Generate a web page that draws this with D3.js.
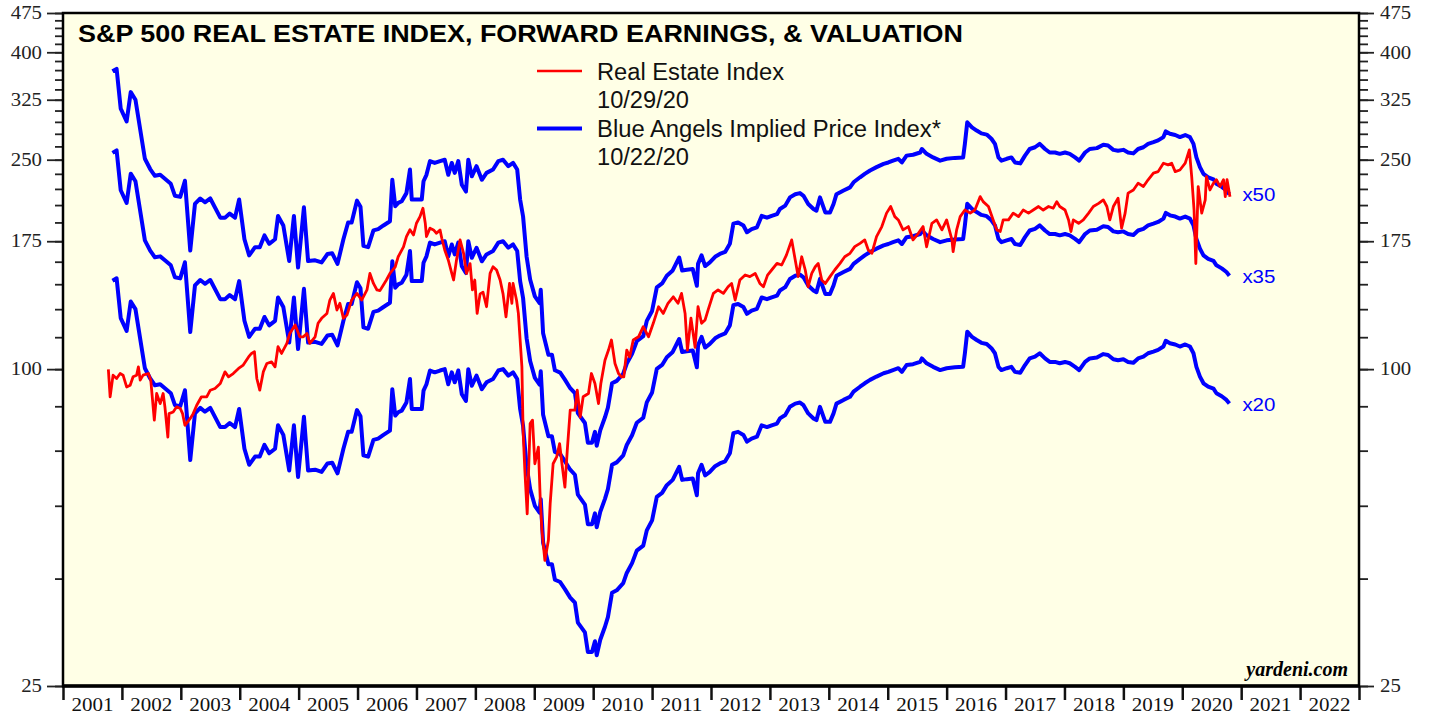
<!DOCTYPE html>
<html>
<head>
<meta charset="utf-8">
<script src="https://cdn.jsdelivr.net/npm/d3@7"></script>
<style>
  html, body { margin: 0; padding: 0; background: #fff; }
  svg { display: block; }
</style>
</head>
<body>
<svg id="chart" width="1429" height="717"></svg>
<script>
// forward earnings (the blue lines are these times a P/E multiple)
const fwdEarnings = [
  [2001.84,7.36],[2001.91,7.44],[2001.98,6.25],[2002.08,5.91],[2002.15,6.72],[2002.23,6.50],[2002.39,5.02],[2002.48,4.80],
  [2002.56,4.66],[2002.65,4.68],[2002.73,4.60],[2002.83,4.50],[2002.90,4.27],[2002.99,4.25],[2003.07,4.56],[2003.16,3.36],
  [2003.24,4.12],[2003.33,4.22],[2003.41,4.15],[2003.50,4.22],[2003.67,3.88],[2003.75,3.88],[2003.83,3.95],[2003.92,3.88],
  [2003.99,4.20],[2004.08,3.53],[2004.16,3.29],[2004.26,3.41],[2004.34,3.41],[2004.42,3.59],[2004.50,3.46],[2004.60,3.53],
  [2004.65,3.91],[2004.74,3.75],[2004.84,3.21],[2004.92,3.91],[2004.99,3.12],[2005.09,4.06],[2005.16,3.21],[2005.28,3.22],
  [2005.39,3.19],[2005.49,3.31],[2005.57,3.32],[2005.66,3.17],[2005.76,3.53],[2005.84,3.80],[2005.90,3.80],[2005.99,4.18],
  [2006.05,4.07],[2006.10,3.43],[2006.18,3.41],[2006.27,3.67],[2006.35,3.69],[2006.44,3.75],[2006.55,3.82],[2006.59,4.58],
  [2006.64,4.08],[2006.69,4.14],[2006.75,4.17],[2006.83,4.32],[2006.89,4.79],[2006.92,4.20],[2007.00,4.20],[2007.09,4.20],
  [2007.12,4.55],[2007.17,4.68],[2007.23,4.97],[2007.31,4.93],[2007.40,4.97],[2007.48,5.00],[2007.54,4.68],[2007.60,4.93],
  [2007.65,4.72],[2007.71,4.97],[2007.77,4.48],[2007.84,4.35],[2007.88,5.00],[2007.94,4.65],[2008.02,4.86],[2008.11,4.58],
  [2008.19,4.72],[2008.30,4.79],[2008.39,4.97],[2008.47,5.00],[2008.56,4.86],[2008.64,4.93],[2008.71,4.79],[2008.76,4.20],
  [2008.81,3.90],[2008.87,3.27],[2008.93,2.96],[2009.01,2.75],[2009.09,2.67],[2009.11,2.83],[2009.15,2.34],[2009.24,2.13],
  [2009.30,2.13],[2009.35,1.99],[2009.44,1.97],[2009.52,1.91],[2009.61,1.84],[2009.69,1.80],[2009.74,1.65],[2009.86,1.58],
  [2009.91,1.45],[2009.98,1.45],[2010.03,1.52],[2010.06,1.43],[2010.12,1.53],[2010.20,1.62],[2010.25,1.69],[2010.32,1.88],
  [2010.40,1.90],[2010.51,1.96],[2010.57,2.05],[2010.66,2.14],[2010.74,2.26],[2010.85,2.31],[2010.91,2.47],[2011.00,2.58],
  [2011.08,2.86],[2011.17,2.91],[2011.25,3.01],[2011.35,3.08],[2011.46,3.26],[2011.51,3.08],[2011.59,3.09],[2011.69,3.10],
  [2011.76,2.88],[2011.78,3.17],[2011.84,3.29],[2011.90,3.14],[2011.98,3.19],[2012.07,3.27],[2012.15,3.31],[2012.24,3.34],
  [2012.32,3.46],[2012.38,3.78],[2012.46,3.80],[2012.55,3.75],[2012.61,3.64],[2012.69,3.69],[2012.78,3.72],[2012.86,3.91],
  [2012.95,3.88],[2013.03,3.91],[2013.12,3.94],[2013.17,4.03],[2013.26,4.09],[2013.34,4.24],[2013.43,4.30],[2013.51,4.32],
  [2013.57,4.27],[2013.65,4.12],[2013.74,4.03],[2013.79,4.00],[2013.85,4.24],[2013.94,3.97],[2014.02,3.97],[2014.08,4.12],
  [2014.13,4.30],[2014.25,4.37],[2014.36,4.43],[2014.42,4.53],[2014.53,4.63],[2014.61,4.70],[2014.70,4.77],[2014.81,4.84],
  [2014.93,4.91],[2015.01,4.94],[2015.09,4.98],[2015.18,5.02],[2015.24,4.94],[2015.32,5.09],[2015.43,5.11],[2015.55,5.16],
  [2015.58,5.24],[2015.66,5.13],[2015.77,5.05],[2015.89,4.98],[2016.00,5.02],[2016.14,5.04],[2016.28,5.05],[2016.31,5.36],
  [2016.35,5.89],[2016.43,5.76],[2016.51,5.68],[2016.59,5.61],[2016.68,5.58],[2016.76,5.48],[2016.82,5.36],[2016.88,5.05],
  [2016.93,4.98],[2017.02,5.02],[2017.10,5.05],[2017.16,4.94],[2017.25,4.92],[2017.33,5.09],[2017.41,5.24],[2017.50,5.28],
  [2017.58,5.36],[2017.67,5.24],[2017.75,5.16],[2017.84,5.16],[2017.92,5.13],[2018.01,5.16],[2018.09,5.13],[2018.18,5.05],
  [2018.25,4.98],[2018.35,5.16],[2018.43,5.24],[2018.55,5.26],[2018.66,5.34],[2018.74,5.32],[2018.83,5.22],[2018.91,5.20],
  [2019.00,5.22],[2019.08,5.16],[2019.17,5.14],[2019.25,5.24],[2019.34,5.28],[2019.42,5.36],[2019.51,5.40],[2019.59,5.44],
  [2019.68,5.52],[2019.72,5.66],[2019.79,5.60],[2019.88,5.57],[2019.96,5.52],[2020.05,5.57],[2020.13,5.52],[2020.19,5.36],
  [2020.24,5.05],[2020.30,4.84],[2020.36,4.70],[2020.44,4.63],[2020.53,4.59],[2020.58,4.50],[2020.67,4.44],[2020.75,4.37],
  [2020.80,4.30]
];

const realEstateIndex = [
  [2001.77,99.9],[2001.80,88.6],[2001.85,97.4],[2001.91,96.0],[2001.97,98.1],[2002.02,97.4],[2002.08,92.5],[2002.14,93.2],
  [2002.19,96.7],[2002.25,97.4],[2002.28,101.0],[2002.31,95.3],[2002.36,97.4],[2002.45,98.1],[2002.49,95.3],[2002.55,80.0],
  [2002.59,89.9],[2002.65,86.0],[2002.70,89.9],[2002.73,84.8],[2002.78,74.3],[2002.80,82.3],[2002.87,82.9],[2002.93,84.8],
  [2002.99,84.2],[2003.03,82.3],[2003.07,78.2],[2003.16,80.6],[2003.21,82.3],[2003.27,85.4],[2003.35,88.6],[2003.44,88.6],
  [2003.50,91.2],[2003.58,91.9],[2003.67,93.9],[2003.75,98.8],[2003.81,96.7],[2003.89,98.1],[2003.98,100.3],[2004.06,101.8],
  [2004.15,105.5],[2004.20,107.1],[2004.25,107.9],[2004.29,96.0],[2004.34,91.2],[2004.40,98.8],[2004.46,102.5],[2004.54,103.2],
  [2004.60,101.0],[2004.65,110.3],[2004.71,107.1],[2004.80,111.9],[2004.85,116.9],[2004.94,121.3],[2005.02,115.2],[2005.08,115.2],
  [2005.14,116.9],[2005.19,111.9],[2005.28,115.2],[2005.33,122.2],[2005.39,124.9],[2005.48,127.6],[2005.53,135.3],[2005.59,139.3],
  [2005.65,129.5],[2005.70,133.4],[2005.76,124.9],[2005.82,126.7],[2005.90,135.3],[2005.99,139.3],[2006.07,135.3],[2006.16,141.4],
  [2006.21,152.0],[2006.27,145.5],[2006.33,141.4],[2006.38,141.0],[2006.42,143.4],[2006.49,147.7],[2006.55,152.0],[2006.64,156.5],
  [2006.69,163.5],[2006.78,170.8],[2006.83,178.6],[2006.89,184.0],[2006.95,179.9],[2007.00,189.3],[2007.06,194.9],[2007.11,202.2],
  [2007.15,189.3],[2007.17,178.6],[2007.23,185.3],[2007.29,183.9],[2007.34,181.2],[2007.40,183.9],[2007.43,177.3],[2007.48,168.4],
  [2007.54,161.2],[2007.60,152.0],[2007.63,147.7],[2007.68,161.2],[2007.74,176.0],[2007.80,166.0],[2007.85,152.0],[2007.91,158.7],
  [2007.95,141.4],[2007.99,147.7],[2008.03,127.6],[2008.08,139.0],[2008.13,140.0],[2008.19,131.4],[2008.25,152.0],[2008.30,156.5],
  [2008.36,154.3],[2008.42,147.7],[2008.47,139.0],[2008.52,125.7],[2008.58,145.5],[2008.62,133.4],[2008.64,145.5],[2008.70,135.0],
  [2008.73,127.6],[2008.79,101.0],[2008.81,76.5],[2008.84,64.2],[2008.88,53.1],[2008.93,78.8],[2008.97,80.0],[2009.01,66.1],
  [2009.07,71.1],[2009.10,57.1],[2009.13,49.4],[2009.18,43.3],[2009.24,47.3],[2009.27,55.5],[2009.32,66.1],[2009.38,68.1],
  [2009.43,72.2],[2009.47,66.1],[2009.52,59.7],[2009.56,70.1],[2009.61,83.6],[2009.69,83.6],[2009.73,91.2],[2009.78,81.1],
  [2009.83,88.6],[2009.92,89.9],[2009.97,98.1],[2010.03,93.9],[2010.09,86.0],[2010.13,93.9],[2010.20,104.0],[2010.26,108.7],
  [2010.31,113.6],[2010.37,102.5],[2010.43,98.1],[2010.48,96.7],[2010.52,96.7],[2010.57,108.7],[2010.62,105.5],[2010.68,113.6],
  [2010.77,115.2],[2010.85,120.4],[2010.94,115.2],[2011.02,122.2],[2011.11,131.4],[2011.19,127.6],[2011.27,133.4],[2011.36,137.2],
  [2011.44,133.4],[2011.50,139.3],[2011.56,127.6],[2011.60,108.7],[2011.66,125.0],[2011.73,110.0],[2011.78,131.4],[2011.84,122.2],
  [2011.90,124.0],[2011.95,129.5],[2012.04,139.3],[2012.12,141.4],[2012.21,139.3],[2012.29,143.4],[2012.35,145.5],[2012.41,135.3],
  [2012.49,147.7],[2012.58,151.0],[2012.66,149.9],[2012.75,152.0],[2012.83,145.5],[2012.89,143.4],[2012.96,150.9],[2013.03,154.3],
  [2013.12,158.8],[2013.20,157.7],[2013.28,164.7],[2013.37,176.0],[2013.43,161.2],[2013.48,149.9],[2013.54,163.5],[2013.60,154.3],
  [2013.65,143.4],[2013.71,152.0],[2013.77,156.5],[2013.82,158.8],[2013.88,147.7],[2013.94,145.5],[2014.02,149.9],[2014.10,154.3],
  [2014.19,158.8],[2014.27,163.5],[2014.36,166.0],[2014.44,170.9],[2014.53,173.4],[2014.61,176.0],[2014.67,168.4],[2014.73,166.0],
  [2014.81,178.6],[2014.90,186.6],[2014.98,197.9],[2015.05,203.7],[2015.12,194.9],[2015.18,192.1],[2015.26,183.9],[2015.35,186.6],
  [2015.43,176.0],[2015.52,181.2],[2015.60,186.6],[2015.66,170.8],[2015.75,189.3],[2015.83,192.1],[2015.92,183.9],[2016.00,192.1],
  [2016.09,176.0],[2016.11,167.2],[2016.17,183.9],[2016.23,194.9],[2016.31,200.6],[2016.40,197.9],[2016.48,200.6],[2016.57,212.7],
  [2016.62,208.1],[2016.71,203.7],[2016.79,192.1],[2016.85,183.9],[2016.91,182.6],[2016.96,192.1],[2017.05,192.1],[2017.13,197.9],
  [2017.22,194.9],[2017.30,200.6],[2017.39,197.9],[2017.47,200.6],[2017.56,203.7],[2017.64,200.6],[2017.73,203.7],[2017.81,202.2],
  [2017.87,208.1],[2017.92,203.7],[2018.01,200.6],[2018.07,192.1],[2018.11,182.6],[2018.15,192.1],[2018.24,189.3],[2018.32,192.1],
  [2018.41,197.9],[2018.49,203.7],[2018.58,206.5],[2018.66,209.7],[2018.72,203.7],[2018.77,192.1],[2018.83,203.7],[2018.91,211.2],
  [2018.97,185.3],[2019.03,197.9],[2019.08,216.0],[2019.17,219.0],[2019.25,225.6],[2019.34,222.3],[2019.42,229.0],[2019.51,235.7],
  [2019.59,237.3],[2019.68,246.2],[2019.76,244.4],[2019.82,246.2],[2019.88,237.3],[2019.96,239.0],[2020.05,246.2],[2020.12,261.0],
  [2020.16,232.2],[2020.20,200.6],[2020.23,158.7],[2020.27,222.3],[2020.33,197.9],[2020.39,209.7],[2020.41,232.2],[2020.47,219.0],
  [2020.53,225.6],[2020.58,229.0],[2020.64,222.3],[2020.70,229.0],[2020.73,212.7],[2020.76,229.0],[2020.81,212.7]
];

const multiples = [50, 35, 20];
const majorTicks = [25, 100, 175, 250, 325, 400, 475];
const minorTicks = [25, 40, 55, 70, 85, 100, 115, 130, 145, 160, 175, 190, 205, 220, 235, 250, 265, 280,
  295, 310, 325, 340, 355, 370, 385, 400, 415, 430, 445, 460, 475];
const yearLabels = [2001, 2002, 2003, 2004, 2005, 2006, 2007, 2008, 2009, 2010, 2011, 2012, 2013, 2014,
  2015, 2016, 2017, 2018, 2019, 2020, 2021, 2022];
const legendItems = [
  { name: 'Real Estate Index', date: '10/29/20', color: '#ff0000', width: 2.5, len: 187 },
  { name: 'Blue Angels Implied Price Index*', date: '10/22/20', color: '#0000ff', width: 4, len: 344 }
];
const title = 'S&P 500 REAL ESTATE INDEX, FORWARD EARNINGS, & VALUATION';

const svg = d3.select('#chart');
const margin = { top: 13, right: 70, bottom: 31, left: 63 };
const width = +svg.attr('width');
const height = +svg.attr('height');
const innerW = width - margin.left - margin.right;
const innerH = height - margin.top - margin.bottom;

const x = d3.scaleLinear().domain([2001, 2023]).range([margin.left, margin.left + innerW]);
const y = d3.scaleLog().domain([25, 475]).range([margin.top + innerH, margin.top]);

const serif = '"Liberation Serif", "Times New Roman", serif';
const sans = '"Liberation Sans", Arial, sans-serif';

svg.append('rect').attr('width', width).attr('height', height).attr('fill', '#fff');
svg.append('rect')
  .attr('x', margin.left).attr('y', margin.top)
  .attr('width', innerW).attr('height', innerH)
  .attr('fill', '#ffffe6');

svg.append('clipPath').attr('id', 'plot-clip')
  .append('rect')
    .attr('x', margin.left).attr('y', margin.top)
    .attr('width', innerW).attr('height', innerH);

const plot = svg.append('g').attr('clip-path', 'url(#plot-clip)');

// blue angels: earnings x multiple
multiples.forEach(m => {
  const line = d3.line()
    .x(d => x(d[0]))
    .y(d => y(d[1] * m));
  plot.append('path')
    .datum(fwdEarnings)
    .attr('fill', 'none')
    .attr('stroke', '#0000ff')
    .attr('stroke-width', 4)
    .attr('stroke-linejoin', 'round')
    .attr('d', line);
});

const redLine = d3.line()
  .x(d => x(d[0]))
  .y(d => y(d[1]));
plot.append('path')
  .datum(realEstateIndex)
  .attr('fill', 'none')
  .attr('stroke', '#ff0000')
  .attr('stroke-width', 2.8)
  .attr('stroke-linejoin', 'round')
  .attr('d', redLine);

// multiple labels at the end of each blue line
const last = fwdEarnings[fwdEarnings.length - 1];
svg.selectAll('.mult-label').data(multiples).enter().append('text')
  .attr('class', 'mult-label')
  .attr('x', x(last[0]) + 13)
  .attr('y', m => y(last[1] * m) + 7)
  .attr('fill', '#0000ff')
  .attr('font-family', sans)
  .attr('font-size', 18.5)
  .attr('textLength', 33)
  .attr('lengthAdjust', 'spacingAndGlyphs')
  .text(m => 'x' + m);

// y axes, left and right
const styleAxis = g => {
  g.select('.domain').remove();
  g.selectAll('.tick line').attr('stroke', '#222').attr('stroke-width', 1.8);
  g.selectAll('.tick text')
    .attr('fill', '#222')
    .attr('font-family', serif)
    .attr('font-size', 18)
    .attr('textLength', d => String(d).length * 10.4)
    .attr('lengthAdjust', 'spacingAndGlyphs');
};

svg.append('g')
  .attr('transform', `translate(${margin.left - 1},0)`)
  .call(d3.axisLeft(y).tickValues(minorTicks).tickSize(7).tickFormat(''))
  .call(styleAxis);
svg.append('g')
  .attr('transform', `translate(${margin.left - 1},0)`)
  .call(d3.axisLeft(y).tickValues(majorTicks).tickSize(15).tickPadding(5).tickFormat(d3.format('d')))
  .call(styleAxis);

svg.append('g')
  .attr('transform', `translate(${margin.left + innerW + 1},0)`)
  .call(d3.axisRight(y).tickValues(minorTicks).tickSize(8).tickFormat(''))
  .call(styleAxis);
svg.append('g')
  .attr('transform', `translate(${margin.left + innerW + 1},0)`)
  .call(d3.axisRight(y).tickValues(majorTicks).tickSize(14).tickPadding(6).tickFormat(d3.format('d')))
  .call(styleAxis);

// x axis: ticks at year boundaries, labels centred in the year
svg.append('g')
  .attr('transform', `translate(0,${margin.top + innerH})`)
  .call(d3.axisBottom(x).tickValues(yearLabels.concat([2023])).tickSize(14).tickFormat(''))
  .call(g => {
    g.select('.domain').remove();
    g.selectAll('.tick line').attr('stroke', '#111').attr('stroke-width', 2.5);
  });

svg.append('g').selectAll('text').data(yearLabels).enter().append('text')
  .attr('x', d => x(d + 0.5))
  .attr('y', margin.top + innerH + 25)
  .attr('text-anchor', 'middle')
  .attr('fill', '#111')
  .attr('font-family', serif)
  .attr('font-size', 18)
  .attr('textLength', 42)
  .attr('lengthAdjust', 'spacingAndGlyphs')
  .text(d => d);

// frame
svg.append('rect')
  .attr('x', margin.left).attr('y', margin.top)
  .attr('width', innerW).attr('height', innerH)
  .attr('fill', 'none')
  .attr('stroke', '#000')
  .attr('stroke-width', 2.5);
svg.append('line')
  .attr('x1', margin.left - 1).attr('x2', margin.left + innerW + 1)
  .attr('y1', margin.top + innerH).attr('y2', margin.top + innerH)
  .attr('stroke', '#000').attr('stroke-width', 3.5);

// title
svg.append('text')
  .attr('x', 78).attr('y', 42)
  .attr('font-family', sans)
  .attr('font-weight', 'bold')
  .attr('font-size', 23)
  .attr('fill', '#000')
  .attr('textLength', 885)
  .attr('lengthAdjust', 'spacingAndGlyphs')
  .text(title);

// legend
const legend = svg.append('g').attr('transform', 'translate(537,0)');
legendItems.forEach((d, i) => {
  const top = 71 + i * 57.5;
  legend.append('line')
    .attr('x1', 0).attr('x2', 45)
    .attr('y1', top).attr('y2', top)
    .attr('stroke', d.color)
    .attr('stroke-width', d.width);
  legend.append('text')
    .attr('x', 60).attr('y', top + 8.5)
    .attr('font-family', sans).attr('font-size', 23).attr('fill', '#111')
    .attr('textLength', d.len).attr('lengthAdjust', 'spacingAndGlyphs')
    .text(d.name);
  legend.append('text')
    .attr('x', 60).attr('y', top + 36.5)
    .attr('font-family', sans).attr('font-size', 23).attr('fill', '#111')
    .attr('textLength', 92).attr('lengthAdjust', 'spacingAndGlyphs')
    .text(d.date);
});

// source
svg.append('text')
  .attr('x', 1348).attr('y', 676)
  .attr('text-anchor', 'end')
  .attr('font-family', serif)
  .attr('font-weight', 'bold')
  .attr('font-style', 'italic')
  .attr('font-size', 20)
  .attr('fill', '#000')
  .text('yardeni.com');
</script>
</body>
</html>
